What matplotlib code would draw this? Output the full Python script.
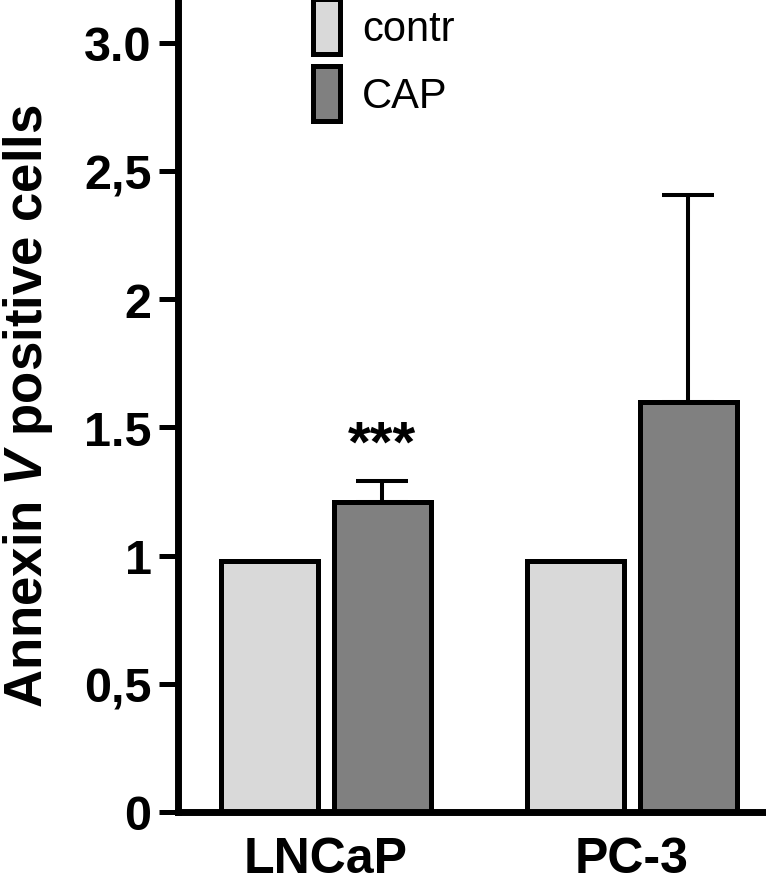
import numpy as np
import matplotlib
matplotlib.use("Agg")
import matplotlib.pyplot as plt

# data
cell_lines = ["LNCaP", "PC-3"]
contr_vals = [0.98, 0.98]
cap_vals = [1.21, 1.60]
cap_err_up = [0.08, 0.805]
ytick_vals = [0, 0.5, 1, 1.5, 2, 2.5, 3]
ytick_labels = ["0", "0,5", "1", "1.5", "2", "2,5", "3.0"]
series_labels = ["contr", "CAP"]
star_text = "***"
star_y = 1.37

plt.rcParams["font.family"] = ["Liberation Sans", "DejaVu Sans"]
plt.rcParams["mathtext.fontset"] = "custom"
plt.rcParams["mathtext.rm"] = "Liberation Sans:bold"
plt.rcParams["mathtext.it"] = "Liberation Sans:italic:bold"
plt.rcParams["mathtext.bf"] = "Liberation Sans:bold"

W, H = 766, 887
fig = plt.figure(figsize=(W / 100, H / 100), dpi=100)
ax = fig.add_axes([178 / W, 74 / H, 588 / W, 813 / H])

x = np.arange(len(cell_lines))
off = 0.1845
width = 0.317

b1 = ax.bar(x - off, contr_vals, width, color="#d9d9d9", edgecolor="black",
            linewidth=3.6, label=series_labels[0], zorder=2)
b2 = ax.bar(x + off, cap_vals, width, color="#808080", edgecolor="black",
            linewidth=3.6, label=series_labels[1], zorder=2)

# upward-only error bars on the CAP bars
ax.errorbar(x + off, cap_vals, yerr=[np.zeros(len(cap_vals)), cap_err_up],
            fmt="none", ecolor="black", elinewidth=2.9, capsize=19,
            capthick=2.9, zorder=1)

ax.text(x[0] + off, star_y, star_text, ha="center", va="baseline",
        fontsize=42, fontweight="bold")

ax.set_xlim(-0.4825, 1.4376)
ax.set_ylim(0, 3.17)

ax.set_yticks(ytick_vals)
ax.set_yticklabels(ytick_labels, fontsize=35, fontweight="bold")
ax.set_xticks(x)
ax.set_xticklabels(cell_lines, fontsize=36, fontweight="bold")

ax.tick_params(axis="y", length=14, width=3.6, pad=5)
ax.tick_params(axis="x", length=0, pad=17)

for s in ["top", "right"]:
    ax.spines[s].set_visible(False)
for s in ["left", "bottom"]:
    ax.spines[s].set_linewidth(5)

fig.text(28 / W, 1 - 406 / H, "Annexin $V$ positive cells", rotation=90,
         ha="center", va="center", fontsize=38, fontweight="bold")

ax.legend(handles=[b1, b2], loc="upper left",
          bbox_to_anchor=(313 / W, 1.0), bbox_transform=fig.transFigure,
          frameon=False, borderpad=0, borderaxespad=0, fontsize=30,
          handlelength=0.65, handleheight=1.66, handletextpad=0.53,
          labelspacing=0.29)

fig.savefig("out.png", dpi=100)
